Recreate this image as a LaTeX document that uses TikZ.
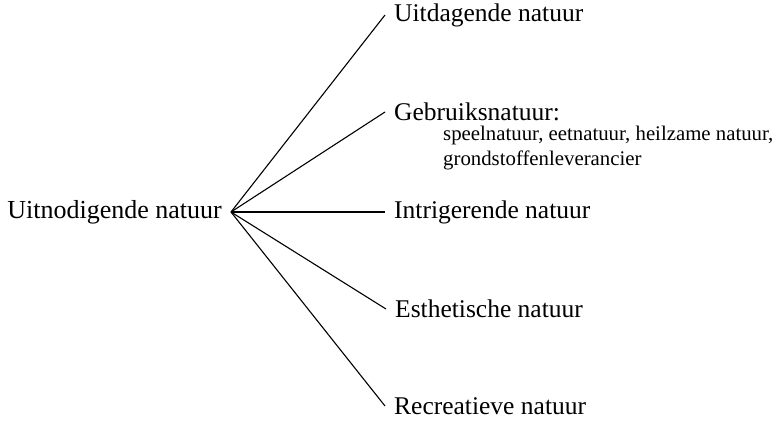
\documentclass[tikz,border=0pt]{standalone}
\usepackage{fontspec}
\setmainfont{Liberation Serif}
\usepackage{tikz}

\begin{document}
\begin{tikzpicture}[x=1pt,y=-1pt,
  label/.style={font=\fontsize{25.5}{30}\selectfont, inner ysep=1pt},
  leaf/.style={label, anchor=west, inner xsep=9pt},
  sublabel/.style={font=\fontsize{20.8}{25}\selectfont, align=left, inner sep=0pt},
  branch/.style={line width=1.1pt}]
\useasboundingbox (0,0) rectangle (774,421);
\node[label, font=\fontsize{26}{30}\selectfont, anchor=east, inner xsep=9pt] (root) at (231,212) {Uitnodigende natuur};
\node[leaf] (uitdagend) at (385,15) {Uitdagende natuur};
\node[leaf] (gebruik) at (385,112) {Gebruiksnatuur:};
\node[sublabel, anchor=north west] (gebruiksub) at (443,125.5) {speelnatuur, eetnatuur, heilzame natuur,\\grondstoffenleverancier};
\node[leaf] (intrigerend) at (385,212) {Intrigerende natuur};
\node[leaf] (esthetisch) at (386,309) {Esthetische natuur};
\node[leaf] (recreatief) at (385,406) {Recreatieve natuur};
\foreach \n in {uitdagend,gebruik,intrigerend,esthetisch,recreatief}
  \draw[branch] (root.east) -- (\n.west);
\end{tikzpicture}
\end{document}
